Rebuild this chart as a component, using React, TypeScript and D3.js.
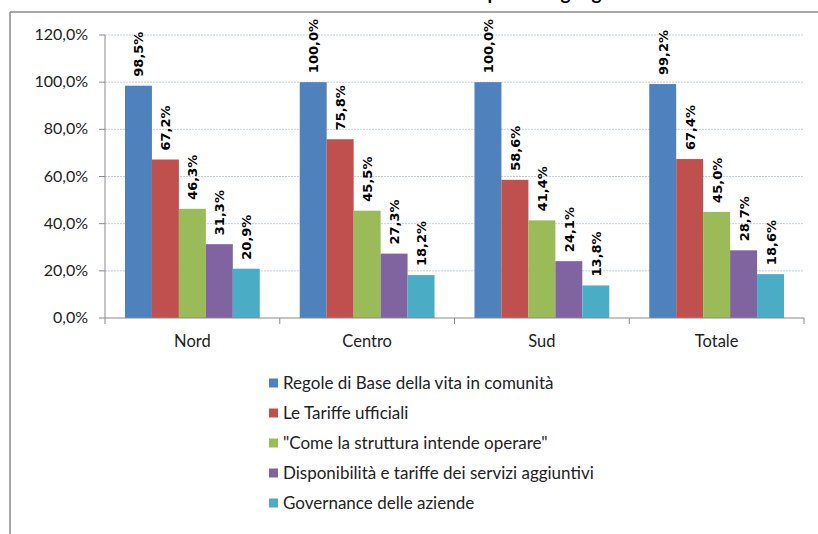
import * as d3 from 'd3';
import React from 'react';

// categorie e serie (valori in %)
const categories = ['Nord', 'Centro', 'Sud', 'Totale'];
const seriesNames = [
  'Regole di Base della vita in comunità',
  'Le Tariffe ufficiali',
  '"Come la struttura intende operare"',
  'Disponibilità e tariffe dei servizi aggiuntivi',
  'Governance delle aziende',
];
const regole = [98.5, 100.0, 100.0, 99.2];
const tariffe = [67.2, 75.8, 58.6, 67.4];
const operare = [46.3, 45.5, 41.4, 45.0];
const disponibilita = [31.3, 27.3, 24.1, 28.7];
const governance = [20.9, 18.2, 13.8, 18.6];
const yTicks = [0, 20, 40, 60, 80, 100, 120];

const colors = ['#4f81bd', '#c0504d', '#9bbb59', '#8064a2', '#4bacc6'];

const params = {
  width: 818,
  height: 534,
  plotLeft: 105,
  plotRight: 804,
  plotTop: 35,
  plotBottom: 318,
  legendX: 269,
  legendY: 383,
  legendStep: 30,
};

const fmt = (v: number) => v.toFixed(1).replace('.', ',') + '%';

export default function App() {
  const series = [regole, tariffe, operare, disponibilita, governance];

  const x0 = d3.scaleBand()
    .domain(categories)
    .range([params.plotLeft, params.plotRight])
    .paddingInner(40 / 175)
    .paddingOuter(20 / 175);
  // boundaries between categories
  const step = (params.plotRight - params.plotLeft) / categories.length;
  const x1 = d3.scaleBand()
    .domain(seriesNames)
    .range([0, x0.bandwidth()]);
  const y = d3.scaleLinear()
    .domain([0, 120])
    .range([params.plotBottom, params.plotTop]);

  const labelFont = '"DejaVu Sans", sans-serif';
  const textFont = 'Lato, "Open Sans", sans-serif';

  return (
    <svg width={params.width} height={params.height}
      style={{ position: 'absolute', left: 0, top: 0, background: '#fff' }}>
      {/* titolo tagliato in alto: restano solo i discendenti */}
      <text x={430} y={0} textAnchor="middle" fontFamily={textFont} fontWeight="bold" fontSize={19} fill="#000">
        Contenuti della Carta dei Servizi per area geografica
      </text>
      {/* cornice */}
      <line x1={10} x2={818} y1={12} y2={12} stroke="#8a8a8a" strokeWidth={1.5} />
      <line x1={10} x2={10} y1={12} y2={534} stroke="#8a8a8a" strokeWidth={1.5} />

      {/* griglia */}
      {yTicks.filter(t => t > 0).map(t => (
        <line key={'g' + t} x1={params.plotLeft} x2={params.plotRight} y1={y(t)} y2={y(t)}
          stroke="#c3cfe6" strokeWidth={1} strokeDasharray="2,1" />
      ))}

      {/* asse y */}
      <line x1={params.plotLeft} x2={params.plotLeft} y1={params.plotTop} y2={params.plotBottom} stroke="#8a8a8a" />
      {yTicks.map(t => (
        <g key={'t' + t}>
          <line x1={params.plotLeft - 6} x2={params.plotLeft} y1={y(t)} y2={y(t)} stroke="#8a8a8a" />
          <text x={88} y={y(t) + 5} textAnchor="end" fontFamily={textFont} fontSize={16} fill="#222">{fmt(t)}</text>
        </g>
      ))}

      {/* barre */}
      {categories.map((c, ci) => (
        <g key={c} transform={`translate(${x0(c)},0)`}>
          {series.map((s, si) => {
            const bx = x1(seriesNames[si]) as number;
            const bw = x1.bandwidth();
            return (
              <g key={si}>
                <rect x={bx} y={y(s[ci])} width={bw} height={params.plotBottom - y(s[ci])} fill={colors[si]} />
                <text transform={`translate(${bx + bw / 2 + 5},${y(s[ci]) - 9}) rotate(-90)`}
                  fontFamily={labelFont} fontWeight="bold" fontSize={13} fill="#000">{fmt(s[ci])}</text>
              </g>
            );
          })}
        </g>
      ))}

      {/* asse x */}
      <line x1={params.plotLeft} x2={params.plotRight} y1={params.plotBottom} y2={params.plotBottom} stroke="#8a8a8a" strokeWidth={1.2} />
      {d3.range(categories.length + 1).map(i => (
        <line key={'xt' + i} x1={params.plotLeft + i * step} x2={params.plotLeft + i * step}
          y1={params.plotBottom} y2={params.plotBottom + 6} stroke="#8a8a8a" />
      ))}
      {categories.map(c => (
        <text key={'xl' + c} x={(x0(c) as number) + x0.bandwidth() / 2} y={347} textAnchor="middle"
          fontFamily={textFont} fontSize={16.5} fill="#222">{c}</text>
      ))}

      {/* legenda */}
      {seriesNames.map((n, i) => (
        <g key={n} transform={`translate(${params.legendX},${params.legendY + i * params.legendStep})`}>
          <rect x={0} y={-4.5} width={9} height={9} fill={colors[i]} />
          <text x={14} y={5.5} fontFamily={textFont} fontSize={17} fill="#222">{n}</text>
        </g>
      ))}
    </svg>
  );
}
